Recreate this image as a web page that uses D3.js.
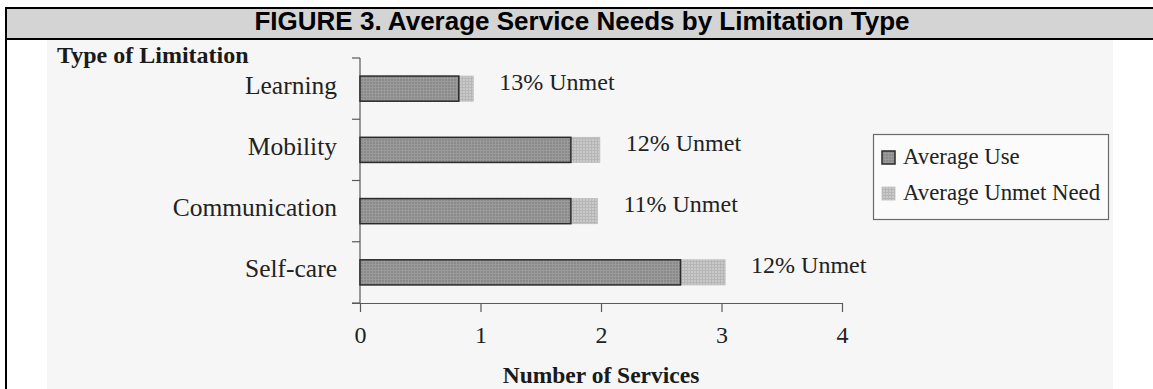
<!DOCTYPE html>
<html>
<head>
<meta charset="utf-8">
<script src="https://cdn.jsdelivr.net/npm/d3@7"></script>
<style>
  html, body { margin: 0; padding: 0; background: #ffffff; }
  svg { display: block; }
</style>
</head>
<body>
<svg id="chart" width="1153" height="389"></svg>
<script>
// Figure 3 data: average services used and average unmet need, per limitation type
const categories = ["Learning", "Mobility", "Communication", "Self-care"];
const averageUse = [0.82, 1.75, 1.75, 2.66];
const averageUnmet = [0.12, 0.24, 0.22, 0.37];
const unmetLabels = ["13% Unmet", "12% Unmet", "11% Unmet", "12% Unmet"];
const xTicks = [0, 1, 2, 3, 4];
const legendLabels = ["Average Use", "Average Unmet Need"];

const titleText = "FIGURE 3. Average Service Needs by Limitation Type";
const yTitle = "Type of Limitation";
const xTitle = "Number of Services";

const svg = d3.select("#chart");
const serif = "'Liberation Serif', 'Times New Roman', serif";
const sans = "'Liberation Sans', Arial, sans-serif";

// Screened fill textures for the two series
const defs = svg.append("defs");
function screen(id, base, grid) {
  const p = defs.append("pattern").attr("id", id)
    .attr("width", 3).attr("height", 3).attr("patternUnits", "userSpaceOnUse");
  p.append("rect").attr("width", 3).attr("height", 3).attr("fill", base);
  p.append("rect").attr("width", 3).attr("height", 1).attr("fill", grid);
  p.append("rect").attr("width", 1).attr("height", 3).attr("fill", grid);
}
screen("useFill", "#8a8a8a", "#9a9a9a");
screen("unmetFill", "#c9c9c9", "#b6b6b6");

// Frame and title band
svg.append("rect").attr("x", 47).attr("y", 40).attr("width", 1066).attr("height", 349)
  .attr("fill", "#f6f6f6");
svg.append("rect").attr("x", 6).attr("y", 8).attr("width", 1147).attr("height", 31)
  .attr("fill", "#d4d4d4");
svg.append("line").attr("x1", 5).attr("x2", 1153).attr("y1", 8).attr("y2", 8)
  .attr("stroke", "#000").attr("stroke-width", 2);
svg.append("line").attr("x1", 5).attr("x2", 1153).attr("y1", 39).attr("y2", 39)
  .attr("stroke", "#000").attr("stroke-width", 2);
svg.append("line").attr("x1", 6).attr("x2", 6).attr("y1", 7).attr("y2", 389)
  .attr("stroke", "#000").attr("stroke-width", 2);
svg.append("text").attr("x", 582).attr("y", 30)
  .attr("text-anchor", "middle")
  .attr("font-family", sans).attr("font-weight", "bold").attr("font-size", 26)
  .attr("fill", "#000")
  .text(titleText);

// Scales
const x = d3.scaleLinear().domain([0, 4]).range([360, 842]);
const y = d3.scaleBand().domain(categories).range([58, 303]).paddingInner(0.59).paddingOuter(0.295);
const band = d3.scaleBand().domain(categories).range([58, 303]);

const axisColor = "#5a5a5a";

// Y axis: vertical line with ticks on band boundaries
const g = svg.append("g");
g.append("line").attr("x1", x(0)).attr("x2", x(0)).attr("y1", 58).attr("y2", 303)
  .attr("stroke", axisColor).attr("stroke-width", 1.2);
const yBounds = categories.map(c => band(c)).concat([303]);
g.selectAll(".ytick").data(yBounds).join("line")
  .attr("x1", x(0) - 8).attr("x2", x(0))
  .attr("y1", d => d).attr("y2", d => d)
  .attr("stroke", axisColor).attr("stroke-width", 1.2);

// X axis
const xAxis = d3.axisBottom(x).tickValues(xTicks).tickSize(9).tickPadding(14)
  .tickFormat(d3.format("d"));
const xg = svg.append("g").attr("transform", "translate(0,303)").call(xAxis);
xg.select(".domain").attr("stroke", axisColor).attr("stroke-width", 1.2)
  .attr("d", `M${x(0) - 8},0.5H${x(4)}`);
xg.selectAll(".tick line").attr("stroke", axisColor).attr("stroke-width", 1.2);
xg.selectAll(".tick text")
  .attr("font-family", serif).attr("font-size", 24).attr("fill", "#222");

// Category labels
svg.selectAll(".cat").data(categories).join("text")
  .attr("x", 337)
  .attr("y", d => band(d) + band.bandwidth() / 2 + 5)
  .attr("text-anchor", "end")
  .attr("font-family", serif).attr("font-size", 25.5).attr("fill", "#222")
  .text(d => d);

// Bars: average use, with unmet need stacked after it
const rows = categories.map((c, i) => ({
  c, use: averageUse[i], unmet: averageUnmet[i], label: unmetLabels[i]
}));
svg.selectAll(".unmet").data(rows).join("rect")
  .attr("x", d => x(d.use))
  .attr("y", d => y(d.c))
  .attr("width", d => x(d.use + d.unmet) - x(d.use))
  .attr("height", y.bandwidth())
  .attr("fill", "url(#unmetFill)")
  .attr("stroke", "#bdbdbd").attr("stroke-width", 0.8);
svg.selectAll(".use").data(rows).join("rect")
  .attr("x", x(0))
  .attr("y", d => y(d.c))
  .attr("width", d => x(d.use) - x(0))
  .attr("height", y.bandwidth())
  .attr("fill", "url(#useFill)")
  .attr("stroke", "#2a2a2a").attr("stroke-width", 1.5);

// Percent-unmet labels
svg.selectAll(".pct").data(rows).join("text")
  .attr("x", d => x(d.use + d.unmet) + 26)
  .attr("y", d => y(d.c) + y.bandwidth() / 2 + 1)
  .attr("font-family", serif).attr("font-size", 24).attr("fill", "#222")
  .text(d => d.label);

// Axis titles
svg.append("text").attr("x", 57).attr("y", 63)
  .attr("font-family", serif).attr("font-weight", "bold").attr("font-size", 24)
  .attr("fill", "#1a1a1a").text(yTitle);
svg.append("text").attr("x", (x(0) + x(4)) / 2).attr("y", 383)
  .attr("text-anchor", "middle")
  .attr("font-family", serif).attr("font-weight", "bold").attr("font-size", 23.5)
  .attr("fill", "#1a1a1a").text(xTitle);

// Legend
const lg = svg.append("g");
lg.append("rect").attr("x", 873.5).attr("y", 134.5).attr("width", 235).attr("height", 85)
  .attr("fill", "#fbfbfb").attr("stroke", "#6a6a6a").attr("stroke-width", 1.2);
const swatches = ["url(#useFill)", "url(#unmetFill)"];
const swStroke = ["#2a2a2a", "#c0c0c0"];
legendLabels.forEach((t, i) => {
  const cy = 158 + i * 36;
  lg.append("rect").attr("x", 882).attr("y", cy - 7).attr("width", 13).attr("height", 13)
    .attr("fill", swatches[i]).attr("stroke", swStroke[i]).attr("stroke-width", i === 0 ? 1.5 : 0.8);
  lg.append("text").attr("x", 903).attr("y", cy + 6)
    .attr("font-family", serif).attr("font-size", 22.8).attr("fill", "#222")
    .text(t);
});
</script>
</body>
</html>
